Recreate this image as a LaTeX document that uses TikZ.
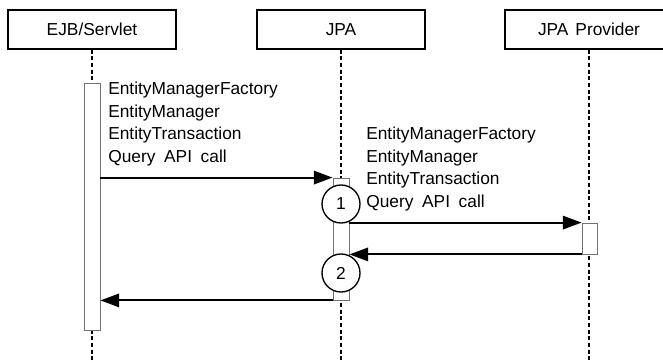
\documentclass[tikz,border=0pt]{standalone}
\usepackage{fontspec}
\setmainfont{Liberation Sans}
\usetikzlibrary{arrows.meta}
\begin{document}
\begin{tikzpicture}[x=0.75pt,y=-0.75pt,
 actor/.style={draw,line width=0.9pt,minimum width=126pt,minimum height=29.25pt,inner sep=0pt,font=\fontsize{13}{15}\selectfont},
 act/.style={draw=black!55,fill=white,line width=0.6pt,inner sep=0pt,minimum width=12pt},
 life/.style={densely dashed,line width=1.1pt},
 msg/.style={line width=1.5pt,-{Triangle[length=14pt,width=10pt]}},
 num/.style={circle,draw,fill=white,line width=1pt,minimum size=28.5pt,inner sep=0pt,font=\fontsize{13}{15}\selectfont},
 lbl/.style={align=left,anchor=north west,inner sep=0pt,font=\fontsize{13}{16.9}\selectfont}
]
\useasboundingbox (0,0) rectangle (663,363);
\clip (0,0) rectangle (663,363);
% actors
\node[actor] (ejb) at (92,29.5) {EJB/Servlet};
\node[actor] (jpa) at (341,29.5) {JPA};
\node[actor] (prov) at (589,29.5) {JPA\hspace{0.4em}Provider};
% lifeline ends
\coordinate (ejbend) at (92,363);
\coordinate (jpaend) at (341,363);
\coordinate (provend) at (589,363);
\draw[life] (ejb.south) -- (ejbend);
\draw[life] (jpa.south) -- (jpaend);
\draw[life] (prov.south) -- (provend);
% activations
\node[act,minimum height=185.25pt] (ejbact) at (92,206.5) {};
\node[act,minimum height=91.5pt] (jpaact) at (341,239) {};
\node[act,minimum width=11.25pt,minimum height=23.25pt] (provact) at (589.5,238.5) {};
% labels
\node[lbl] (l1) at (108,82) {EntityManagerFactory\\EntityManager\\EntityTransaction\\Query\hspace{0.5em}API\hspace{0.5em}call};
\node[lbl] (l2) at (366,127) {EntityManagerFactory\\EntityManager\\EntityTransaction\\Query\hspace{0.5em}API\hspace{0.5em}call};
% messages
\draw[msg] (ejbact.east |- jpaact.north) -- (jpaact.north west);
\draw[msg] (jpaact.east |- provact.north) -- (provact.north west);
\draw[msg] (provact.south west) -- (jpaact.east |- provact.south);
\draw[msg] (jpaact.south west) -- (ejbact.east |- jpaact.south);
% step numbers
\node[num] (n1) at (341,204) {1};
\node[num] (n2) at (341,273) {2};
\end{tikzpicture}
\end{document}
